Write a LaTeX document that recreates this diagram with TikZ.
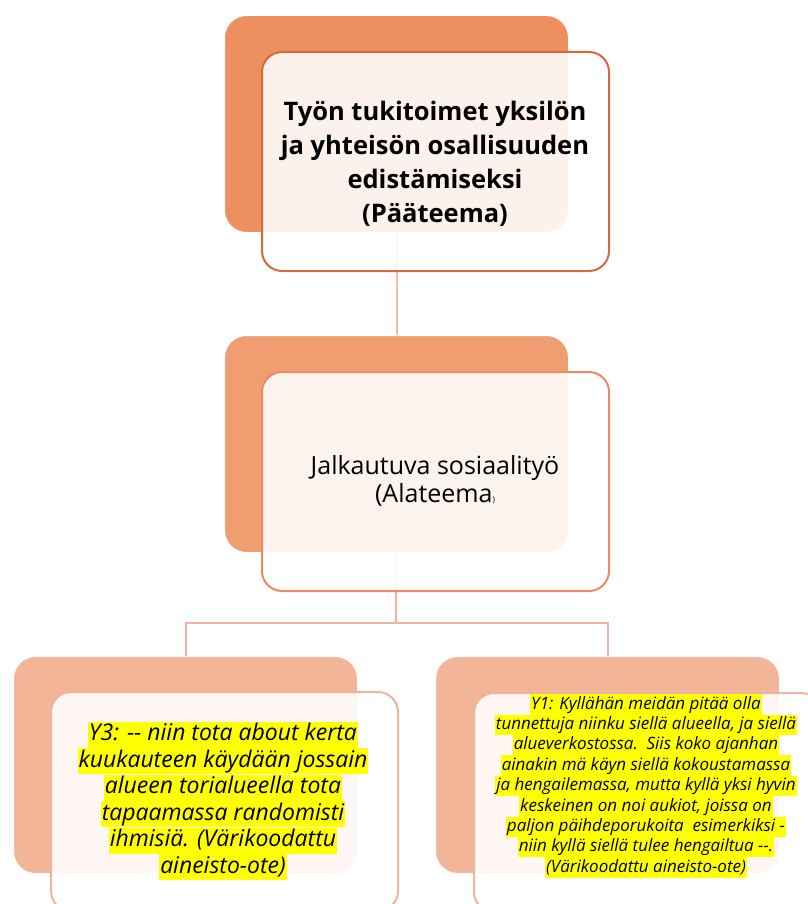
\documentclass[tikz,border=0pt]{standalone}
\usepackage{fontspec}
\setmainfont{Open Sans}
\usetikzlibrary{backgrounds}
\definecolor{topback}{HTML}{EE8F60}
\definecolor{topline}{HTML}{D9693C}
\definecolor{midback}{HTML}{F09D72}
\definecolor{midline}{HTML}{EC8A66}
\definecolor{lowback}{HTML}{F3B597}
\definecolor{lowline}{HTML}{F2B39D}
\definecolor{linkA}{HTML}{F4BCA5}
\definecolor{linkB}{HTML}{F2B5A0}
\definecolor{hly}{HTML}{FFFF00}
\newcommand\hlt[1]{{\setlength\fboxsep{0pt}\colorbox{hly}{\kern1pt\rule[-0.27\baselineskip]{0pt}{0.995\baselineskip}#1\kern1pt}}}
\tikzset{
  backbox/.style={rounded corners=22pt, minimum width=344pt, minimum height=217pt,
    inner sep=0pt, anchor=north west, draw=white, line width=1pt},
  frontbox/.style={rounded corners=20pt, minimum width=347pt, minimum height=219pt,
    inner sep=0pt, anchor=north west, fill=white, fill opacity=0.88, text opacity=1, line width=2pt},
  link/.style={line width=2pt},
  txt/.style={align=center, inner sep=0pt, text=black},
}
\begin{document}
\begin{tikzpicture}[x=1pt,y=-1pt]
\useasboundingbox (0,0) rectangle (807,904);
% top
\node[backbox, fill=topback] (tb) at (224,15) {};
\node[frontbox, draw=topline] (tf) at (261,51) {};
\node[txt, font={\bfseries\fontsize{25.5}{34}\selectfont}] (tt) at (435,164)
  {Työn tukitoimet yksilön\\ja yhteisön osallisuuden\\edistämiseksi\\(Pääteema)};
% middle
\node[backbox, fill=midback] (mb) at (224,335) {};
\node[frontbox, draw=midline] (mf) at (261,371) {};
\node[txt, font={\fontsize{25}{28}\selectfont}] (mt) at (435,481)
  {Jalkautuva sosiaalityö\\(Alateema{\footnotesize)}};
% bottom left
\node[backbox, fill=lowback] (lb) at (13,656) {};
\node[frontbox, draw=lowline] (lf) at (50,691) {};
\node[txt, font={\itshape\fontsize{23}{26.5}\selectfont}] (lt) at (223,801)
  {\hlt{Y3: -{}- niin tota about kerta}\\\hlt{kuukauteen käydään jossain}\\\hlt{alueen torialueella tota}\\\hlt{tapaamassa randomisti}\\\hlt{ihmisiä. (Värikoodattu}\\\hlt{aineisto-ote)}};
% bottom right
\node[backbox, fill=lowback] (rb) at (435,656) {};
\node[frontbox, draw=lowline] (rf) at (473,692) {};
\node[txt, font={\itshape\fontsize{17}{20.4}\selectfont}] (rt) at (646,786)
  {\hlt{Y1: Kyllähän meidän pitää olla}\\\hlt{tunnettuja niinku siellä alueella, ja siellä}\\\hlt{alueverkostossa.\ \ Siis koko ajanhan}\\\hlt{ainakin mä käyn siellä kokoustamassa}\\\hlt{ja hengailemassa, mutta kyllä yksi hyvin}\\\hlt{keskeinen on noi aukiot, joissa on}\\\hlt{paljon päihdeporukoita\ \ esimerkiksi -}\\\hlt{niin kyllä siellä tulee hengailtua -{}-.}\\\hlt{(Värikoodattu aineisto-ote)}};
% connectors
\begin{scope}[on background layer]
\draw[link, draw=linkA] (tb.south) -- (mb.north);
\coordinate (fork) at (396,623);
\draw[link, draw=linkB] (mb.south) -- (fork);
\draw[link, draw=linkB] (fork) -| (lb.north);
\draw[link, draw=linkB] (fork) -| (rb.north);
\end{scope}
\end{tikzpicture}
\end{document}
